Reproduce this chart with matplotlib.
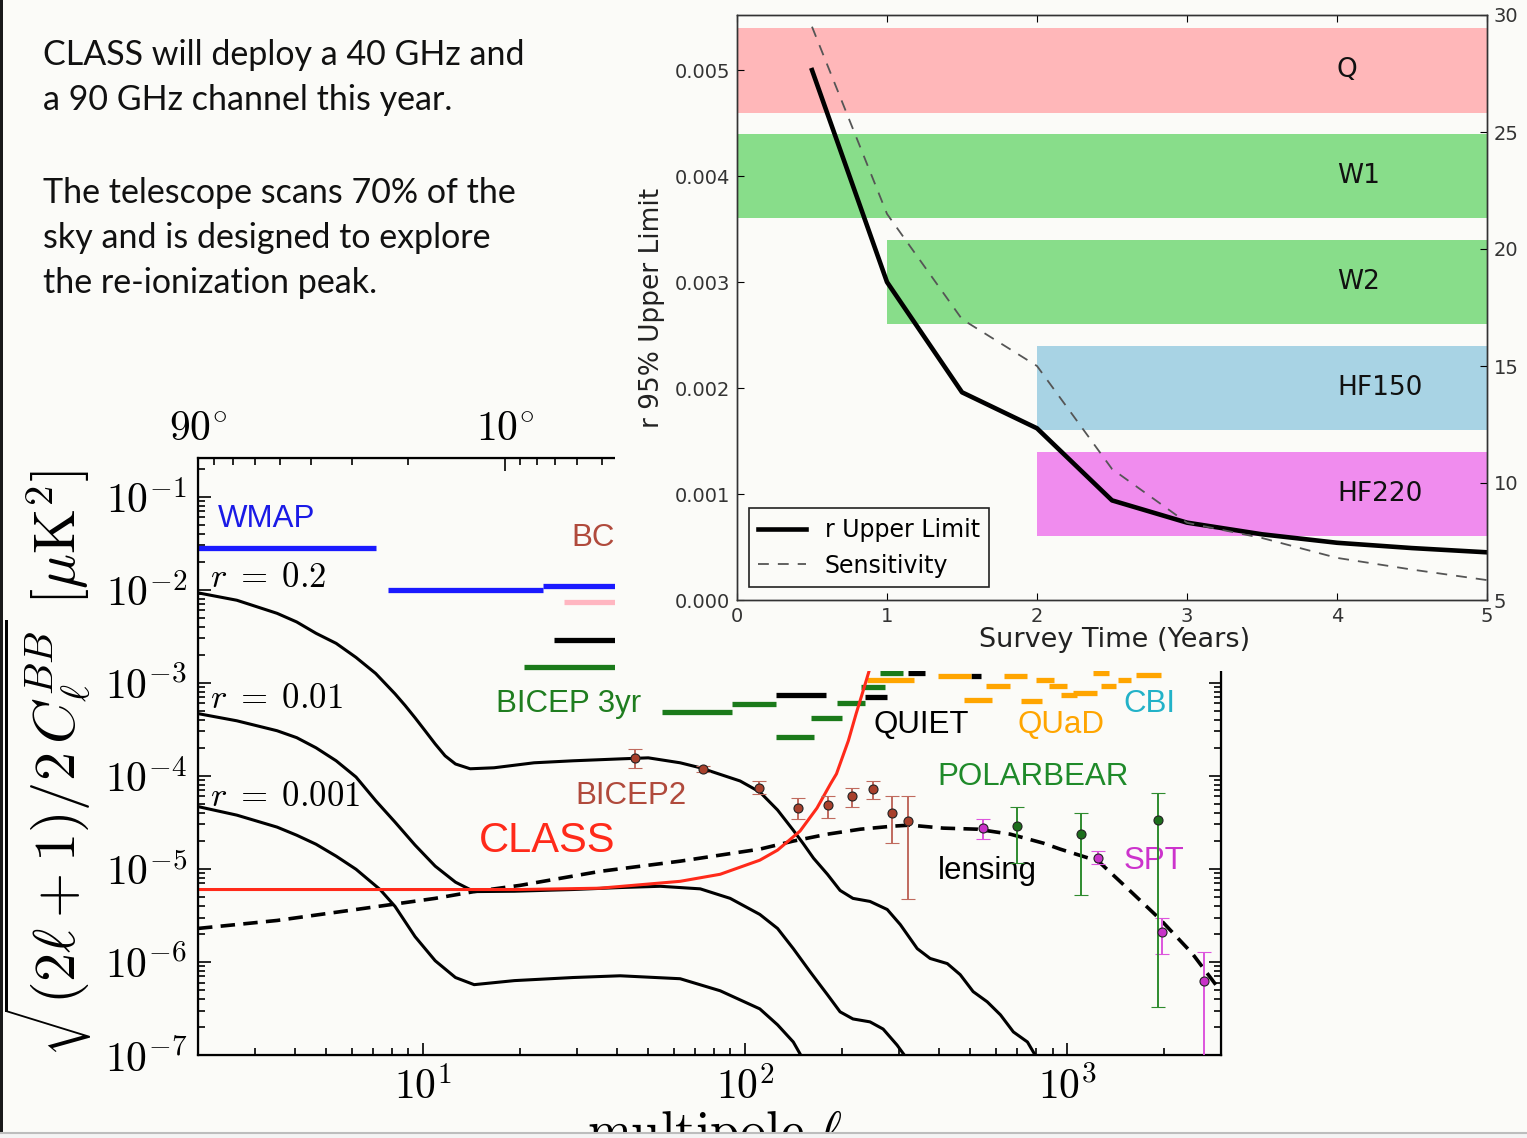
import numpy as np
import matplotlib
matplotlib.use("Agg")
import matplotlib.pyplot as plt
from matplotlib.patches import Rectangle
from matplotlib.lines import Line2D
from matplotlib.ticker import FixedLocator, NullFormatter

plt.rcParams["mathtext.fontset"] = "cm"
BG = "#fbfbf8"
SANS = ["Liberation Sans", "DejaVu Sans"]

# ---------------- slide text ----------------
slide_lines = ["CLASS will deploy a 40 GHz and", "a 90 GHz channel this year.",
               "The telescope scans 70% of the", "sky and is designed to explore",
               "the re-ionization peak."]

# ---------------- BB spectrum (lower plot) ----------------
r02_ell = [2, 2.64, 3.52, 4.05, 4.65, 5.37, 6.19, 7.12, 8.18, 8.79, 9.44, 10.14, 10.9, 11.7, 12.6,
           14.0, 16.6, 22.1, 29.2, 40.9, 50, 62.8, 72.5, 96.4, 111, 126, 141, 151, 163, 180, 197,
           216, 244, 276, 303, 342, 375, 424, 465, 510, 564, 620, 680, 752, 807]
r02_val = [9.25e-3, 7.7e-3, 5.57e-3, 4.5e-3, 3.4e-3, 2.65e-3, 1.87e-3, 1.26e-3, 7.6e-4, 5.7e-4,
           4.2e-4, 3.05e-4, 2.2e-4, 1.64e-4, 1.34e-4, 1.19e-4, 1.22e-4, 1.38e-4, 1.45e-4, 1.52e-4,
           1.56e-4, 1.38e-4, 1.22e-4, 8.8e-5, 6.7e-5, 4.29e-5, 2.6e-5, 1.89e-5, 1.3e-5, 8.75e-6,
           5.87e-6, 4.82e-6, 4.47e-6, 3.66e-6, 2.52e-6, 1.39e-6, 1.09e-6, 9.6e-7, 7.3e-7, 4.8e-7,
           3.73e-7, 2.7e-7, 1.77e-7, 1.38e-7, 9.1e-8]

r001_ell = [2, 2.64, 3.52, 4.05, 4.65, 5.37, 6.19, 7.14, 8.18, 9.44, 10.9, 12.6, 14.4, 19.2, 29.2,
            40.9, 54.5, 72.5, 89.8, 111, 126, 141, 159, 180, 197, 216, 244, 268, 296, 318]
r001_val = [4.66e-4, 3.9e-4, 3.05e-4, 2.57e-4, 2.0e-4, 1.45e-4, 9.7e-5, 5.36e-5, 3.18e-5, 1.8e-5,
            1.07e-5, 7.2e-6, 5.7e-6, 5.75e-6, 6.0e-6, 6.3e-6, 6.5e-6, 6.1e-6, 4.82e-6, 3.24e-6,
            2.29e-6, 1.39e-6, 7.85e-7, 4.44e-7, 2.91e-7, 2.44e-7, 2.27e-7, 1.9e-7, 1.28e-7, 9.1e-8]

r0001_ell = [2, 2.64, 3.52, 4.05, 4.65, 5.37, 6.19, 7.35, 8.18, 9.44, 10.9, 12.6, 14.4, 19.2, 29.2,
             40.9, 62.8, 83.6, 111, 126, 141, 151]
r0001_val = [4.67e-5, 3.78e-5, 2.81e-5, 2.3e-5, 1.84e-5, 1.37e-5, 9.9e-6, 6.0e-6, 3.95e-6, 1.87e-6,
             1.03e-6, 6.8e-7, 5.7e-7, 6.3e-7, 6.8e-7, 7.1e-7, 6.6e-7, 4.9e-7, 3.13e-7, 2.11e-7,
             1.38e-7, 9.1e-8]

lens_ell = [2, 3.52, 6.19, 10.9, 14.4, 20, 35.4, 62.8, 111, 141, 180, 228, 288, 325, 412, 525,
            665, 842, 950, 1248, 1513, 1944, 2444, 3000]
lens_val = [2.29e-6, 2.79e-6, 3.66e-6, 4.82e-6, 5.7e-6, 6.65e-6, 9.4e-6, 1.21e-5, 1.63e-5,
            1.99e-5, 2.36e-5, 2.67e-5, 2.88e-5, 2.95e-5, 2.74e-5, 2.67e-5, 2.36e-5, 1.89e-5,
            1.63e-5, 1.21e-5, 6.5e-6, 2.86e-6, 1.23e-6, 4.8e-7]

class_ell = [2, 20, 35.4, 62.8, 83.6, 111, 126, 148, 167, 184, 192, 209, 221, 234, 248]
class_val = [6.0e-6, 6.0e-6, 6.2e-6, 7.35e-6, 8.75e-6, 1.24e-5, 1.59e-5, 2.55e-5, 4.5e-5,
             8.2e-5, 1.05e-4, 2.38e-4, 4.66e-4, 8.9e-4, 1.74e-3]

# upper limits: ell_lo, ell_hi, value
wmap_lo, wmap_hi, wmap_val = [2, 7.78, 23.6], [7.14, 23.6, 45], [2.8e-2, 9.9e-3, 1.09e-2]
bc_lo, bc_hi, bc_val = [27.4], [45], [7.3e-3]
quiet_lo = [25.5, 125, 235, 321, 502]
quiet_hi = [45, 178, 276, 362, 540]
quiet_val = [2.85e-3, 7.3e-4, 7.0e-4, 1.26e-3, 1.17e-3]
bicep1_lo = [20.6, 55, 91, 125, 160, 193, 228, 262]
bicep1_hi = [45, 91, 125, 164, 200, 235, 271, 308]
bicep1_val = [1.46e-3, 4.9e-4, 5.95e-4, 2.63e-4, 4.2e-4, 6.1e-4, 8.9e-4, 1.26e-3]
quad_lo = [238, 398, 478, 560, 635, 720, 800, 875, 955, 1045, 1200, 1270, 1440, 1630]
quad_hi = [334, 503, 585, 666, 750, 835, 910, 995, 1075, 1235, 1350, 1420, 1575, 1950]
quad_val = [1.06e-3, 1.17e-3, 6.6e-4, 9.3e-4, 1.17e-3, 6.4e-4, 1.06e-3, 9.3e-4, 7.3e-4,
            7.8e-4, 1.26e-3, 9.3e-4, 1.06e-3, 1.2e-3]

# band powers with error bars
b2_ell = [45.5, 74, 110, 146, 181, 215, 250, 286, 321]
b2_val = [1.56e-4, 1.19e-4, 7.4e-5, 4.5e-5, 4.85e-5, 6.1e-5, 7.3e-5, 4.0e-5, 3.26e-5]
b2_lo = [1.22e-4, 1.1e-4, 6.3e-5, 3.4e-5, 3.5e-5, 4.6e-5, 5.6e-5, 1.9e-5, 4.8e-6]
b2_hi = [1.95e-4, 1.28e-4, 8.8e-5, 5.8e-5, 6.1e-5, 7.4e-5, 8.8e-5, 6.1e-5, 6.1e-5]
spt_ell = [548, 1248, 1972, 2662]
spt_val = [2.74e-5, 1.3e-5, 2.1e-6, 6.3e-7]
spt_lo = [2.08e-5, 1.12e-5, 1.23e-6, 1e-8]
spt_hi = [3.4e-5, 1.55e-5, 3.0e-6, 1.29e-6]
pb_ell = [698, 1104, 1915]
pb_val = [2.88e-5, 2.36e-5, 3.34e-5]
pb_lo = [1.15e-5, 5.2e-6, 3.3e-7]
pb_hi = [4.6e-5, 3.98e-5, 6.55e-5]

# ---------------- survey time inset ----------------
years = [0.5, 1.0, 1.5, 2.0, 2.5, 3.0, 3.5, 4.0, 4.5, 5.0]
r_limit = [0.0050, 0.0030, 0.00196, 0.00162, 0.00094, 0.00073, 0.00062, 0.00054, 0.00049, 0.00045]
sensitivity = [29.5, 21.5, 17.0, 15.0, 10.6, 8.3, 7.65, 6.8, 6.3, 5.85]
band_names = ["Q", "W1", "W2", "HF150", "HF220"]
band_start = [0, 0, 1, 2, 2]
band_lo = [0.0046, 0.0036, 0.0026, 0.0016, 0.0006]
band_hi = [0.0054, 0.0044, 0.0034, 0.0024, 0.0014]
band_colors = ["#ffb7b9", "#88dd8a", "#88dd8a", "#a8d3e4", "#f08cee"]

W, H = 1527, 1138


def fx(px):
    return px / W


def fy(py):
    return 1 - py / H


fig = plt.figure(figsize=(15.27, 11.38), dpi=100, facecolor=BG)

# slide text
for line, base in zip(slide_lines, [65, 110, 203, 248, 293]):
    fig.text(fx(43), fy(base), line, fontsize=24.5, family=["Lato", "DejaVu Sans"],
             va="baseline", ha="left", color="#111111")

# ---------------- lower plot ----------------
ax = fig.add_axes([fx(198), fy(1055), fx(1221) - fx(198), fy(458) - fy(1055)])
ax.set_facecolor(BG)
ax.set_xscale("log")
ax.set_yscale("log")

ax.hlines(wmap_val, wmap_lo, wmap_hi, colors="#1a1aff", lw=3.8)
ax.hlines(bc_val, bc_lo, bc_hi, colors="#ffb6c1", lw=3.8)
ax.hlines(quiet_val, quiet_lo, quiet_hi, colors="black", lw=3.8)
ax.hlines(bicep1_val, bicep1_lo, bicep1_hi, colors="#1a7a1a", lw=3.8)
ax.hlines(quad_val, quad_lo, quad_hi, colors="#ffa500", lw=3.8)

ax.plot(r02_ell, r02_val, color="black", lw=2.2)
ax.plot(r001_ell, r001_val, color="black", lw=2.2)
ax.plot(r0001_ell, r0001_val, color="black", lw=2.2)
ax.plot(lens_ell, lens_val, color="black", lw=2.6, dashes=(4, 2.3))
ax.plot(class_ell, class_val, color="#ff2a1a", lw=2.2)


def bars(ell, val, lo, hi, face, ecol):
    val = np.array(val)
    yerr = [val - np.array(lo), np.array(hi) - val]
    ax.errorbar(ell, val, yerr=yerr, fmt="o", ms=6.5, mfc=face, mec="#222222", mew=0.8,
                ecolor=ecol, elinewidth=1.4, capsize=5, capthick=1.4, zorder=4)


bars(b2_ell, b2_val, b2_lo, b2_hi, "#a8402c", "#c06a5e")
bars(spt_ell, spt_val, spt_lo, spt_hi, "#c832c8", "#dd55dd")
bars(pb_ell, pb_val, pb_lo, pb_hi, "#1c6e1c", "#2e8b2e")

lab = dict(family=SANS, fontsize=22.5, va="center", ha="left")
ax.text(2.31, 5.75e-2, "WMAP", color="#1a1ae6", **lab)
ax.text(39.4, 3.6e-2, "BC", color="#b04a3c", **{**lab, "ha": "right"})
ax.text(16.8, 5.95e-4, "BICEP 3yr", color="#1f7d1f", **lab)
ax.text(250, 3.54e-4, "QUIET", color="black", **lab)
ax.text(698, 3.54e-4, "QUaD", color="#ffa500", **lab)
ax.text(1492, 5.95e-4, "CBI", color="#22b2c8", **lab)
ax.text(394, 9.7e-5, "POLARBEAR", color="#1f8a2a", **lab)
ax.text(29.7, 6.07e-5, "BICEP2", color="#b04a3c", **lab)
ax.text(14.9, 1.99e-5, "CLASS", color="#ff2a1a", **{**lab, "fontsize": 30})
ax.text(397, 9.4e-6, "lensing", color="black", **lab)
ax.text(1492, 1.21e-5, "SPT", color="#cc33cc", **lab)
ax.text(2.18, 1.36e-2, r"$r\;=\;0.2$", fontsize=25, va="center", ha="left")
ax.text(2.18, 6.9e-4, r"$r\;=\;0.01$", fontsize=25, va="center", ha="left")
ax.text(2.18, 6.07e-5, r"$r\;=\;0.001$", fontsize=25, va="center", ha="left")

ax.set_xlim(2, 3000)
ax.set_ylim(1e-7, 0.26)
ax.set_xticks([10, 100, 1000])
ax.set_xticklabels([r"$10^{1}$", r"$10^{2}$", r"$10^{3}$"], fontsize=30)
ax.set_yticks([10.0 ** k for k in range(-7, 0)])
ax.set_yticklabels([r"$10^{%d}$" % k for k in range(-7, 0)], fontsize=30)
ax.xaxis.set_minor_formatter(NullFormatter())
ax.yaxis.set_minor_formatter(NullFormatter())
ax.tick_params(which="both", direction="in", right=True, top=False, width=1.2)
ax.tick_params(which="major", length=9, pad=8)
ax.tick_params(which="minor", length=5)
for s in ax.spines.values():
    s.set_linewidth(1.6)

# angular scale on top
axt = ax.twiny()
axt.set_xscale("log")
axt.set_xlim(2, 3000)
axt.set_xticks([2, 18])
axt.set_xticklabels([r"$90^{\circ}$", r"$10^{\circ}$"], fontsize=30)
axt.xaxis.set_minor_locator(FixedLocator([180.0 / a for a in [80, 70, 60, 50, 40, 30, 20, 9, 8, 7, 6, 5, 4]]))
axt.xaxis.set_minor_formatter(NullFormatter())
axt.tick_params(which="both", direction="in", width=1.2)
axt.tick_params(which="major", length=9, pad=6)
axt.tick_params(which="minor", length=5)

fig.text(fx(48), fy(763), r"$\sqrt{(2\ell+1)/2\,C_\ell^{BB}}\ [\mu\mathrm{K}^2]$",
         rotation=90, fontsize=42, ha="center", va="center")
fig.text(fx(715), fy(1108), r"$\mathrm{multipole}\ \ell$", fontsize=38, ha="center", va="top")

# inset sits on an opaque panel
fig.add_artist(Rectangle((fx(615), fy(671)), 1 - fx(615), 1 - fy(671), transform=fig.transFigure,
                         facecolor=BG, edgecolor="none", zorder=1))

# ---------------- inset ----------------
axi = fig.add_axes([fx(737), fy(600), fx(1487) - fx(737), fy(15) - fy(600)])
axi.set_zorder(3)
axi.set_facecolor(BG)
for name, x0, lo, hi, col in zip(band_names, band_start, band_lo, band_hi, band_colors):
    axi.fill_between([x0, 5], lo, hi, color=col, lw=0)
    axi.text(4.0, (lo + hi) / 2, name, fontsize=19, va="center", ha="left", color="#111111")
line_r, = axi.plot(years, r_limit, color="black", lw=3.3)
axi.set_xlim(0, 5)
axi.set_ylim(0, 0.00552)
axi.set_xticks(range(6))
axi.set_yticks([0, 0.001, 0.002, 0.003, 0.004, 0.005])
axi.set_yticklabels(["0.000", "0.001", "0.002", "0.003", "0.004", "0.005"])
axi.tick_params(direction="in", top=True, labelsize=14, labelcolor="#333333", length=5, pad=5)

axr = axi.twinx()
axr.set_zorder(4)
axr.patch.set_visible(False)
line_s, = axr.plot(years, sensitivity, color="#555555", lw=1.3, dashes=(6, 5))
axr.set_ylim(5, 30)
axr.set_yticks([5, 10, 15, 20, 25, 30])
axr.tick_params(direction="in", labelsize=14, labelcolor="#333333", length=5, pad=5)
for a in (axi, axr):
    for s in a.spines.values():
        s.set_color("#333333")
        s.set_linewidth(1.0)

leg = axr.legend([line_r, line_s], ["r Upper Limit", "Sensitivity"], loc="lower left",
                 bbox_to_anchor=(0.016, 0.022), borderaxespad=0, fontsize=17, fancybox=False,
                 framealpha=1, edgecolor="#222222", facecolor=BG, handlelength=2.0)
leg.get_frame().set_linewidth(1.2)

fig.text(fx(652), fy(308), "r 95% Upper Limit", rotation=90, fontsize=19, ha="center",
         va="center", color="#222222", zorder=4)
fig.text(fx(1115), fy(640), "Survey Time (Years)", fontsize=19.5, ha="center", va="center",
         color="#222222", zorder=4)

# slide frame edges
fig.add_artist(Rectangle((0, fy(1133)), fx(3), 1 - fy(1133), transform=fig.transFigure,
                         facecolor="#1a1a1a", edgecolor="none", zorder=6))
fig.add_artist(Rectangle((0, 0), 1, fy(1133), transform=fig.transFigure,
                         facecolor="#f4f4f4", edgecolor="none", zorder=6))
fig.add_artist(Line2D([0, 1], [fy(1133), fy(1133)], transform=fig.transFigure,
                      color="#bdbdbd", lw=1.5, zorder=7))

fig.savefig("out.png", dpi=100, facecolor=BG)
print("done")
